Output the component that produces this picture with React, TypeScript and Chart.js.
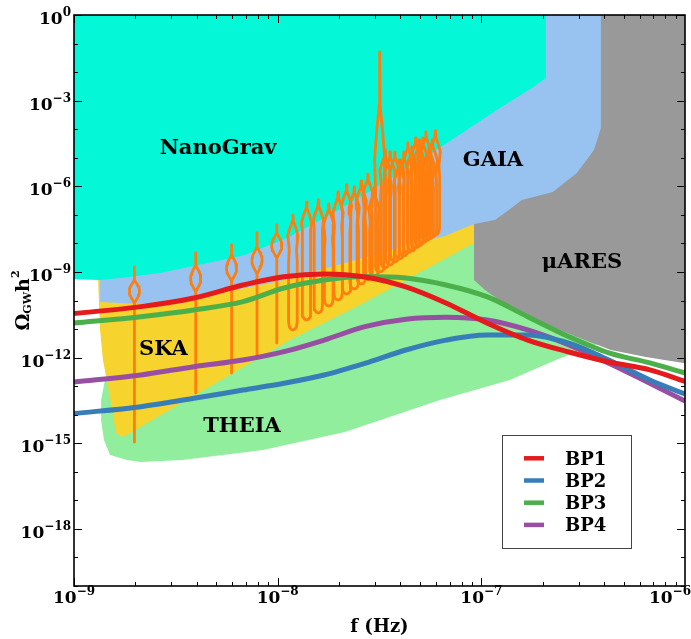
import React, { useEffect, useRef } from 'react';
import { Chart, registerables } from 'chart.js';

Chart.register(...registerables);

// ---------------- data ----------------
// benchmark-point spectra
const bpFreq = [1.0e-9, 2.13e-9, 3.88e-9, 6.76e-9, 1.074e-8, 1.69e-8, 2.68e-8, 4.26e-8, 6.7e-8, 1.065e-7, 1.69e-7, 2.69e-7, 4.23e-7, 6.72e-7, 1.0e-6];
const bp1 = [3.5e-11, 6.1e-11, 1.22e-10, 3.5e-10, 6.8e-10, 8.5e-10, 6.7e-10, 3.0e-10, 8.2e-11, 1.63e-11, 4.1e-12, 1.57e-12, 7.0e-13, 3.7e-13, 1.46e-13];
const bp2 = [1.1e-14, 1.91e-14, 3.75e-14, 7.3e-14, 1.26e-13, 2.46e-13, 6.3e-13, 1.85e-12, 4.1e-12, 6.2e-12, 6.2e-12, 3.2e-12, 8.2e-13, 1.64e-13, 5.3e-14];
const bp3 = [1.63e-11, 2.71e-11, 4.65e-11, 9.1e-11, 2.74e-10, 5.2e-10, 6.9e-10, 6.1e-10, 3.5e-10, 1.36e-10, 2.71e-11, 5.4e-12, 1.45e-12, 6.5e-13, 2.9e-13];
const bp4 = [1.4e-13, 2.46e-13, 4.8e-13, 8.2e-13, 1.61e-12, 4.1e-12, 1.21e-11, 2.2e-11, 2.58e-11, 2.07e-11, 9.3e-12, 2.76e-12, 6.3e-13, 1.26e-13, 3.0e-14];
const bpLabels = ['BP1', 'BP2', 'BP3', 'BP4'];

// sensitivity regions: outline vertices as log10(f), log10(Omega h^2)
const theiaLogF = [-8.848, -7.056, -6.418, -6.418, -6.634, -6.86, -7.203, -7.67, -8.072, -8.47, -8.671, -8.74, -8.823, -8.853, -8.867, -8.867];
const theiaLogO = [-12.785, -6.48, -6.48, -11.489, -12.084, -12.785, -13.485, -14.606, -15.236, -15.587, -15.657, -15.587, -15.412, -14.886, -14.186, -13.485];
const skaLogF = [-8.882, -8.882, -7.007, -7.007, -7.036, -7.596, -7.94, -8.759, -8.794, -8.813, -8.833, -8.858, -8.872];
const skaLogO = [-9.212, -8.231, -6.48, -8.056, -7.986, -10.158, -11.384, -14.781, -14.641, -13.835, -13.03, -12.084, -11.033];
const gaiaLogF = [-8.872, -6.683, -6.32, -6.32, -6.909, -7.036, -7.179, -7.4, -7.67, -7.989, -8.381, -8.676, -8.872];
const gaiaLogO = [-7.496, 0.5, 0.5, -6.48, -7.25, -7.32, -7.741, -8.161, -8.686, -9.317, -9.877, -10.123, -10.053];
const nanogravLogF = [-9.05, -6.683, -6.683, -6.752, -6.909, -7.169, -7.537, -7.719, -7.954, -8.161, -8.367, -8.578, -8.774, -8.872, -9.05];
const nanogravLogO = [0.5, 0.5, -2.207, -2.557, -3.257, -4.483, -6.13, -6.9, -7.811, -8.406, -8.722, -9.037, -9.212, -9.282, -9.247];
const aresLogF = [-6.413, -6.413, -6.447, -6.531, -6.649, -6.801, -6.865, -6.933, -7.036, -7.036, -6.982, -6.865, -6.698, -6.531, -6.364, -6.192, -5.976, -5.976];
const aresLogO = [0.5, -3.958, -4.729, -5.534, -6.2, -6.48, -6.83, -7.18, -7.32, -9.282, -9.632, -10.228, -10.788, -11.278, -11.734, -11.979, -12.224, 0.5];

// NANOGrav 15-yr free-spectrum violins (log10 Omega h^2 extents)
const ngFreq = [1.98e-9, 3.96e-9, 5.94e-9, 7.92e-9, 9.9e-9, 1.188e-8, 1.386e-8, 1.584e-8, 1.782e-8, 1.98e-8, 2.178e-8, 2.376e-8, 2.574e-8, 2.772e-8, 2.97e-8, 3.168e-8, 3.366e-8, 3.564e-8, 3.762e-8, 3.96e-8, 4.158e-8, 4.356e-8, 4.554e-8, 4.752e-8, 4.95e-8, 5.148e-8, 5.346e-8, 5.544e-8, 5.742e-8, 5.94e-8];
const ngTop = [-8.827, -8.336, -8.056, -7.636, -7.356, -7.005, -6.55, -6.48, -6.62, -6.2, -5.954, -6.025, -5.814, -5.569, -6.06, -1.296, -4.729, -4.799, -4.799, -5.079, -4.799, -4.483, -4.623, -4.308, -4.378, -4.308, -4.098, -4.553, -4.378, -4.063];
const ngBulbTop = [-9.282, -8.757, -8.406, -8.126, -7.636, -7.215, -6.76, -6.69, -6.83, -6.41, -6.165, -6.235, -6.025, -5.779, -6.27, -3.152, -4.939, -5.009, -5.009, -5.289, -5.009, -4.694, -4.834, -4.518, -4.588, -4.518, -4.308, -4.764, -4.588, -4.273];
const ngBulbBottom = [-10.088, -9.702, -9.317, -9.072, -8.511, -8.231, -7.776, -7.706, -7.846, -7.426, -7.18, -7.25, -7.04, -6.795, -7.285, -7.005, -5.954, -6.025, -6.025, -6.305, -6.025, -5.709, -5.849, -5.534, -5.604, -5.534, -5.324, -5.779, -5.604, -5.289];
const ngBottom = [-14.956, -13.24, -12.539, -11.909, -11.489, -11.033, -10.683, -10.438, -10.193, -9.982, -9.772, -9.597, -9.422, -9.282, -9.142, -9.002, -8.862, -8.757, -8.651, -8.546, -8.441, -8.336, -8.266, -8.161, -8.091, -7.986, -7.916, -7.846, -7.776, -7.706];
const ngShape = ['p', 'p', 'p', 'p', 'p', 't', 't', 't', 't', 't', 't', 't', 't', 't', 't', 't', 't', 't', 't', 't', 't', 't', 't', 't', 't', 't', 't', 't', 't', 't'];

const xTickExponents = [-9, -8, -7, -6];
const yTickExponents = [0, -3, -6, -9, -12, -15, -18];

// region label anchors (data coordinates)
const regionLabels = [
  { text: 'NanoGrav', f: 5.1e-9, o: 2.48e-5 },
  { text: 'GAIA', f: 1.14e-7, o: 9.8e-6 },
  { text: 'μARES', f: 3.12e-7, o: 2.42e-9 },
  { text: 'SKA', f: 2.75e-9, o: 2.17e-12 },
  { text: 'THEIA', f: 6.68e-9, o: 4.54e-15 },
];

// ---------------- styles ----------------
const W = 691;
const H = 639;
const SERIF = '"DejaVu Serif", serif';
const BP_COLORS = ['#E41A1C', '#377EB8', '#4DAF4A', '#984EA3'];
const ORANGE = '#FF7F0E';
const VIOLIN_HALF = 0.025; // decades
const regions = [
  { lf: theiaLogF, lo: theiaLogO, color: '#90EE9C', order: 10 },
  { lf: skaLogF, lo: skaLogO, color: '#F7D32D', order: 9 },
  { lf: gaiaLogF, lo: gaiaLogO, color: '#98C2F0', order: 8 },
  { lf: nanogravLogF, lo: nanogravLogO, color: '#04F7D7', order: 7 },
  { lf: aresLogF, lo: aresLogO, color: '#999999', order: 6 },
];

function violinOutline(i: number) {
  const lf0 = Math.log10(ngFreq[i]);
  const top = ngTop[i], bt = ngBulbTop[i], bb = ngBulbBottom[i], bot = ngBottom[i];
  let prof: [number, number][] = [];
  if (ngShape[i] === 'p') {
    prof.push([top, 0]);
    for (let j = 0; j <= 14; j++) {
      const t = j / 14;
      prof.push([bt + (bb - bt) * t, Math.pow(Math.sin(Math.PI * t), 1.1)]);
    }
    prof.push([bot, 0]);
  } else {
    const L = bot - bb;
    prof = [
      [top, 0], [bt, 0.08], [bt + (bb - bt) * 0.25, 0.6], [bt + (bb - bt) * 0.5, 1],
      [bt + (bb - bt) * 0.75, 0.85], [bb, 0.72], [bb + L * 0.15, 0.85], [bb + L * 0.9, 0.85],
      [bb + L * 0.96, 0.7], [bb + L * 0.99, 0.4], [bot, 0],
    ];
  }
  const right = prof.map(([lo, w]) => ({ x: Math.pow(10, lf0 + w * VIOLIN_HALF), y: Math.pow(10, lo) }));
  const left = prof.slice().reverse().map(([lo, w]) => ({ x: Math.pow(10, lf0 - w * VIOLIN_HALF), y: Math.pow(10, lo) }));
  const pts = [...right, ...left];
  pts.push(pts[0]);
  return pts;
}

function drawPow(ctx: CanvasRenderingContext2D, exp: number, x: number, y: number, align: 'right' | 'center') {
  const base = '10';
  const sup = exp === 0 ? '0' : '\u2212' + Math.abs(exp);
  const fMain = `bold 17px ${SERIF}`;
  const fSup = `bold 12px ${SERIF}`;
  ctx.font = fMain;
  const wb = ctx.measureText(base).width;
  ctx.font = fSup;
  const ws = ctx.measureText(sup).width;
  const total = wb + ws;
  let x0 = align === 'right' ? x - total : x - total / 2;
  if (x0 + total > W) x0 = W - total;
  ctx.textAlign = 'left';
  ctx.textBaseline = 'alphabetic';
  ctx.font = fMain;
  ctx.fillText(base, x0, y);
  ctx.font = fSup;
  ctx.fillText(sup, x0 + wb, y - 8);
}

const decor = {
  id: 'decor',
  afterDraw(chart: any) {
    const ctx: CanvasRenderingContext2D = chart.ctx;
    const { left, right, top, bottom } = chart.chartArea;
    const xs = chart.scales.x;
    const ys = chart.scales.y;
    ctx.save();
    // region labels
    ctx.fillStyle = '#000';
    ctx.font = `bold 21px ${SERIF}`;
    ctx.textAlign = 'center';
    ctx.textBaseline = 'alphabetic';
    regionLabels.forEach((l) => {
      ctx.fillText(l.text, xs.getPixelForValue(l.f), ys.getPixelForValue(l.o) + 7.5);
    });
    // frame
    ctx.strokeStyle = '#000';
    ctx.lineWidth = 1.6;
    ctx.strokeRect(left, top, right - left, bottom - top);
    // ticks
    ctx.lineWidth = 1;
    ctx.beginPath();
    for (let d = -9; d < -6; d++) {
      for (let m = 1; m <= 9; m++) {
        const v = m * Math.pow(10, d);
        const px = Math.round(xs.getPixelForValue(v)) + 0.5;
        const len = m === 1 ? 8 : 4;
        ctx.moveTo(px, bottom); ctx.lineTo(px, bottom - len);
        ctx.moveTo(px, top); ctx.lineTo(px, top + len);
      }
    }
    for (let e = 0; e >= -20; e--) {
      const py = Math.round(ys.getPixelForValue(Math.pow(10, e))) + 0.5;
      const len = e % 3 === 0 ? 8 : 4;
      ctx.moveTo(left, py); ctx.lineTo(left + len, py);
      ctx.moveTo(right, py); ctx.lineTo(right - len, py);
    }
    ctx.stroke();
    // tick labels
    ctx.fillStyle = '#000';
    xTickExponents.forEach((e) => {
      drawPow(ctx, e, xs.getPixelForValue(Math.pow(10, e)), bottom + 17, 'center');
    });
    yTickExponents.forEach((e) => {
      drawPow(ctx, e, left - 3, ys.getPixelForValue(Math.pow(10, e)) + 9, 'right');
    });
    // x title
    ctx.font = `bold 18px ${SERIF}`;
    ctx.textAlign = 'center';
    ctx.fillText('f (Hz)', (left + right) / 2, 632);
    // y title (rotated)
    ctx.save();
    ctx.translate(29, (top + bottom) / 2);
    ctx.rotate(-Math.PI / 2);
    const parts = [
      { t: 'Ω', f: `bold 19px ${SERIF}`, dy: 0 },
      { t: 'GW', f: `bold 11px ${SERIF}`, dy: 2 },
      { t: 'h', f: `bold 19px ${SERIF}`, dy: 0 },
      { t: '2', f: `bold 11px ${SERIF}`, dy: -10 },
    ];
    let tot = 0;
    parts.forEach((p) => { ctx.font = p.f; tot += ctx.measureText(p.t).width; });
    let cx = -tot / 2;
    ctx.textAlign = 'left';
    parts.forEach((p) => {
      ctx.font = p.f;
      ctx.fillText(p.t, cx, p.dy);
      cx += ctx.measureText(p.t).width;
    });
    ctx.restore();
    // legend
    const lx = 502, ly = 435, lw = 129, lh = 113;
    ctx.fillStyle = '#fff';
    ctx.fillRect(lx, ly, lw, lh);
    ctx.strokeStyle = '#444';
    ctx.lineWidth = 1;
    ctx.strokeRect(lx + 0.5, ly + 0.5, lw, lh);
    bpLabels.forEach((lab, i) => {
      const ry = 458.3 + i * 22.2;
      ctx.strokeStyle = BP_COLORS[i];
      ctx.lineWidth = 4.5;
      ctx.beginPath();
      ctx.moveTo(524, ry); ctx.lineTo(544, ry);
      ctx.stroke();
      ctx.fillStyle = '#000';
      ctx.font = `bold 18px ${SERIF}`;
      ctx.textAlign = 'left';
      ctx.fillText(lab, 565, ry + 6.5);
    });
    ctx.restore();
  },
};

export default function App() {
  const ref = useRef<HTMLCanvasElement>(null);
  useEffect(() => {
    const canvas = ref.current;
    if (!canvas) return;
    const datasets: any[] = [];
    regions.forEach((r) => {
      datasets.push({
        data: r.lf.map((v, i) => ({ x: Math.pow(10, v), y: Math.pow(10, r.lo[i]) })),
        showLine: true, fill: 'shape', backgroundColor: r.color,
        borderColor: 'rgba(0,0,0,0)', borderWidth: 0, pointRadius: 0, tension: 0,
        order: r.order, clip: 0,
      });
    });
    ngFreq.forEach((_, i) => {
      datasets.push({
        data: violinOutline(i), showLine: true, fill: false,
        borderColor: ORANGE, borderWidth: 2.8, pointRadius: 0, tension: 0,
        borderJoinStyle: 'round', borderCapStyle: 'round', order: 2, clip: 0,
      });
    });
    [bp1, bp2, bp3, bp4].forEach((arr, i) => {
      datasets.push({
        label: bpLabels[i],
        data: bpFreq.map((f, j) => ({ x: f, y: arr[j] })),
        showLine: true, fill: false, borderColor: BP_COLORS[i], borderWidth: 5,
        pointRadius: 0, cubicInterpolationMode: 'monotone', order: 1, clip: 0,
      });
    });
    const chart = new Chart(canvas, {
      type: 'scatter',
      data: { datasets },
      options: {
        responsive: false,
        animation: false,
        devicePixelRatio: 1,
        events: [],
        layout: { padding: { left: 0, right: 6, top: 15, bottom: 0 } },
        plugins: { legend: { display: false }, tooltip: { enabled: false } },
        scales: {
          x: {
            type: 'logarithmic', position: 'bottom', min: 1e-9, max: 1e-6,
            ticks: { display: false }, grid: { display: false }, border: { display: false },
            afterFit: (s: any) => { s.height = 53; },
          },
          y: {
            type: 'logarithmic', position: 'left', min: 1e-20, max: 1,
            ticks: { display: false }, grid: { display: false }, border: { display: false },
            afterFit: (s: any) => { s.width = 74; },
          },
        },
      } as any,
      plugins: [decor],
    });
    return () => chart.destroy();
  }, []);
  return (
    <div style={{ position: 'fixed', left: 0, top: 0, width: W, height: H, background: '#fff' }}>
      <canvas ref={ref} width={W} height={H} style={{ display: 'block', width: W, height: H }} />
    </div>
  );
}
